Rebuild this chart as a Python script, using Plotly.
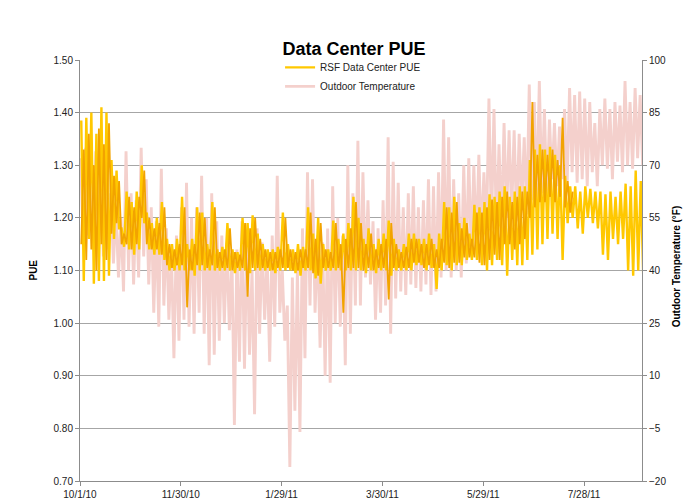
import numpy as np
import pandas as pd
import plotly.graph_objects as go

# ---- data (3-day periods starting 10/1/10) ----
period_start = pd.date_range("2010-10-01", periods=112, freq="3D")

temp_hi = [72, 75, 70, 74, 68, 72, 62, 58, 55, 74,
           62, 60, 75, 66, 58, 54, 69, 52, 45, 50,
           58, 65, 55, 58, 67, 55, 62, 54, 50, 48,
           45, 46, 54, 50, 40, 52, 48, 44, 50, 67,
           40, 30, 38, 40, 52, 68, 66, 50, 48, 52,
           64, 55, 50, 70, 62, 77, 68, 60, 54, 52,
           60, 78, 71, 65, 58, 62, 64, 58, 60, 66,
           64, 68, 83, 78, 66, 62, 70, 72, 70, 73,
           68, 89, 86, 76, 82, 80, 80, 79, 78, 93,
           88, 94, 86, 83, 82, 81, 86, 92, 90, 91,
           89, 88, 82, 86, 89, 86, 88, 87, 94, 88,
           92, 90]
temp_lo = [48, 50, 46, 47, 44, 46, 42, 38, 34, 40,
           36, 38, 44, 36, 28, 24, 30, 26, 15, 20,
           26, 24, 22, 28, 22, 13, 16, 20, 25, 23,
           -4, 14, 12, 16, -1, 22, 26, 14, 24, 28,
           20, -16, 0, -6, 15, 30, 28, 18, 10, 8,
           25, 24, 13, 22, 30, 30, 38, 36, 26, 28,
           30, 22, 32, 34, 33, 36, 35, 34, 36, 33,
           34, 38, 40, 38, 40, 38, 42, 44, 47, 48,
           50, 52, 50, 52, 55, 56, 54, 58, 56, 60,
           60, 62, 60, 66, 64, 66, 64, 68, 65, 66,
           64, 68, 64, 70, 69, 66, 71, 68, 70, 69,
           72, 70]

pue_hi = [1.385, 1.39, 1.40, 1.36, 1.41, 1.40, 1.31, 1.29, 1.18, 1.25,
          1.23, 1.25, 1.30, 1.21, 1.19, 1.20, 1.23, 1.16, 1.15, 1.16,
          1.24, 1.15, 1.16, 1.22, 1.21, 1.15, 1.23, 1.14, 1.145, 1.19,
          1.14, 1.135, 1.20, 1.19, 1.205, 1.17, 1.15, 1.14, 1.14, 1.145,
          1.21, 1.15, 1.14, 1.15, 1.145, 1.22, 1.17, 1.20, 1.15, 1.14,
          1.195, 1.16, 1.17, 1.19, 1.24, 1.20, 1.16, 1.18, 1.15, 1.16,
          1.17, 1.195, 1.16, 1.14, 1.15, 1.17, 1.17, 1.16, 1.16, 1.17,
          1.15, 1.17, 1.23, 1.22, 1.24, 1.19, 1.20, 1.17, 1.225, 1.22,
          1.23, 1.245, 1.24, 1.25, 1.26, 1.24, 1.25, 1.26, 1.26, 1.31,
          1.33, 1.34, 1.33, 1.335, 1.32, 1.30, 1.28, 1.26, 1.26, 1.25,
          1.26, 1.255, 1.25, 1.25, 1.245, 1.25, 1.24, 1.25, 1.265, 1.26,
          1.29, 1.27]
pue_lo = [1.08, 1.16, 1.075, 1.08, 1.08, 1.09, 1.16, 1.18, 1.145, 1.14,
          1.13, 1.14, 1.19, 1.14, 1.13, 1.13, 1.12, 1.10, 1.10, 1.10,
          1.10, 1.10, 1.09, 1.10, 1.10, 1.10, 1.10, 1.10, 1.10, 1.10,
          1.095, 1.10, 1.10, 1.095, 1.10, 1.10, 1.10, 1.10, 1.095, 1.10,
          1.10, 1.10, 1.095, 1.09, 1.10, 1.10, 1.085, 1.075, 1.10, 1.10,
          1.10, 1.10, 1.10, 1.10, 1.10, 1.10, 1.095, 1.10, 1.095, 1.10,
          1.10, 1.09, 1.10, 1.10, 1.10, 1.10, 1.11, 1.11, 1.10, 1.105,
          1.065, 1.10, 1.11, 1.10, 1.11, 1.11, 1.12, 1.12, 1.12, 1.11,
          1.10, 1.11, 1.12, 1.11, 1.09, 1.12, 1.11, 1.11, 1.12, 1.13,
          1.14, 1.15, 1.16, 1.17, 1.16, 1.12, 1.19, 1.20, 1.18, 1.17,
          1.20, 1.19, 1.18, 1.13, 1.12, 1.16, 1.15, 1.16, 1.10, 1.09,
          1.10, 1.088]

# darker overlapping PUE trace (not in legend), periods 0-97
pue2_hi = [1.33, 1.36, 1.30, 1.37, 1.34, 1.38, 1.28, 1.27, 1.17, 1.24,
           1.22, 1.24, 1.29, 1.20, 1.18, 1.19, 1.22, 1.15, 1.14, 1.15,
           1.22, 1.14, 1.15, 1.21, 1.20, 1.14, 1.22, 1.135, 1.14, 1.18,
           1.135, 1.13, 1.19, 1.18, 1.20, 1.16, 1.14, 1.135, 1.135, 1.14,
           1.20, 1.14, 1.135, 1.14, 1.14, 1.21, 1.16, 1.19, 1.14, 1.135,
           1.19, 1.15, 1.16, 1.18, 1.23, 1.19, 1.15, 1.17, 1.14, 1.15,
           1.16, 1.19, 1.15, 1.135, 1.145, 1.16, 1.16, 1.15, 1.15, 1.16,
           1.14, 1.16, 1.22, 1.21, 1.23, 1.18, 1.19, 1.16, 1.21, 1.21,
           1.22, 1.235, 1.23, 1.24, 1.25, 1.23, 1.24, 1.25, 1.25, 1.42,
           1.32, 1.33, 1.32, 1.33, 1.31, 1.39, 1.27, 1.25]
pue2_lo = [1.15, 1.12, 1.14, 1.10, 1.15, 1.12, 1.17, 1.19, 1.15, 1.15,
           1.14, 1.15, 1.20, 1.15, 1.14, 1.14, 1.13, 1.11, 1.105, 1.11,
           1.11, 1.03, 1.10, 1.11, 1.11, 1.105, 1.11, 1.105, 1.105, 1.105,
           1.10, 1.105, 1.105, 1.05, 1.105, 1.105, 1.105, 1.105, 1.10, 1.105,
           1.105, 1.105, 1.10, 1.10, 1.105, 1.105, 1.095, 1.09, 1.105, 1.105,
           1.105, 1.105, 1.02, 1.105, 1.105, 1.105, 1.10, 1.105, 1.10, 1.105,
           1.105, 1.045, 1.105, 1.105, 1.105, 1.105, 1.115, 1.115, 1.105, 1.11,
           1.105, 1.105, 1.115, 1.105, 1.115, 1.115, 1.125, 1.125, 1.125, 1.115,
           1.11, 1.12, 1.13, 1.12, 1.15, 1.15, 1.14, 1.15, 1.16, 1.20,
           1.22, 1.23, 1.23, 1.24, 1.23, 1.24, 1.22, 1.21]

x_tick_dates = ["2010-10-01", "2010-11-30", "2011-01-29", "2011-03-30", "2011-05-29", "2011-07-28"]
x_tick_labels = ["10/1/10", "11/30/10", "1/29/11", "3/30/11", "5/29/11", "7/28/11"]
pue_ticks = [0.70, 0.80, 0.90, 1.00, 1.10, 1.20, 1.30, 1.40, 1.50]
temp_ticks = [-20, -5, 10, 25, 40, 55, 70, 85, 100]


def zigzag(starts, first, second, off1, off2):
    xs, ys = [], []
    for s, a, b in zip(starts, first, second):
        xs += [s + pd.Timedelta(hours=24 * off1), s + pd.Timedelta(hours=24 * off2)]
        ys += [a, b]
    return xs, ys


tx, ty = zigzag(period_start, temp_hi, temp_lo, 0.4, 1.9)
gx, gy = zigzag(period_start, pue_hi, pue_lo, 0.75, 2.25)
ox, oy = zigzag(period_start[:len(pue2_hi)], pue2_lo, pue2_hi, 0.75, 2.25)

PINK = "rgb(244,208,204)"
GOLD = "#FFC800"
ORANGE = "#F2A300"
GRID = "#A6A6A6"
AXIS = "#8C8C8C"
FONT = "Liberation Sans, Arial, sans-serif"

fig = go.Figure()
fig.add_trace(go.Scatter(x=tx, y=ty, mode="lines", name="Outdoor Temperature",
                         line=dict(color=PINK, width=2.9), yaxis="y", legendrank=2))
fig.add_trace(go.Scatter(x=gx, y=gy, mode="lines", name="RSF Data Center PUE",
                         line=dict(color=GOLD, width=2.4), yaxis="y2", legendrank=1))
fig.add_trace(go.Scatter(x=ox, y=oy, mode="lines", name="PUE (detail)",
                         line=dict(color=ORANGE, width=1.8), yaxis="y2", showlegend=False))

# the page body adds an 8px offset; margins compensate so the plot sits at 80..642 x 60..481
fig.update_layout(
    width=699, height=502,
    margin=dict(l=72, r=65, t=52, b=29, autoexpand=False),
    paper_bgcolor="white", plot_bgcolor="white",
    font=dict(family=FONT, size=10, color="#222"),
    title=dict(text="<b>Data Center PUE</b>", font=dict(size=18, color="#000", family=FONT),
               x=0.495, xref="container", xanchor="center",
               y=0.918, yref="container", yanchor="middle"),
    xaxis=dict(type="date", range=["2010-10-01", "2011-08-31 12:00"],
               tickmode="array", tickvals=x_tick_dates, ticktext=x_tick_labels,
               ticks="outside", ticklen=4, tickcolor=AXIS,
               showline=True, linecolor=AXIS, linewidth=1, showgrid=False,
               zeroline=False, tickfont=dict(size=10), automargin=False),
    yaxis=dict(side="right", range=[-20, 100], tickmode="array", tickvals=temp_ticks,
               ticks="outside", ticklen=4, tickcolor=AXIS,
               showline=True, linecolor=AXIS, linewidth=1,
               showgrid=True, gridcolor=GRID, gridwidth=1, zeroline=False,
               tickfont=dict(size=10), automargin=False),
    yaxis2=dict(overlaying="y", side="left", range=[0.70, 1.50], tickmode="array",
                tickvals=pue_ticks, tickformat=".2f",
                ticks="outside", ticklen=4, tickcolor=AXIS,
                showline=True, linecolor=AXIS, linewidth=1,
                showgrid=False, zeroline=False, tickfont=dict(size=10), automargin=False),
    legend=dict(x=0.356, y=1.017, xanchor="left", yanchor="top",
                bgcolor="rgba(0,0,0,0)", font=dict(size=10, color="#222"),
                itemwidth=30, tracegroupgap=0),
    annotations=[
        dict(text="<b>PUE</b>", xref="paper", yref="paper", x=-0.0836, y=0.5,
             textangle=-90, showarrow=False, font=dict(size=10, color="#000"),
             xanchor="center", yanchor="middle"),
        dict(text="<b>Outdoor Temperature (°F)</b>", xref="paper", yref="paper",
             x=1.0605, y=0.51, textangle=-90, showarrow=False,
             font=dict(size=10, color="#000"), xanchor="center", yanchor="middle"),
    ],
    shapes=[
        dict(type="rect", xref="paper", yref="paper", x0=0.383, x1=0.609, y0=0.992, y1=1.03,
             fillcolor="white", line=dict(width=0), layer="above"),
    ],
)

fig.write_html("out.html")
